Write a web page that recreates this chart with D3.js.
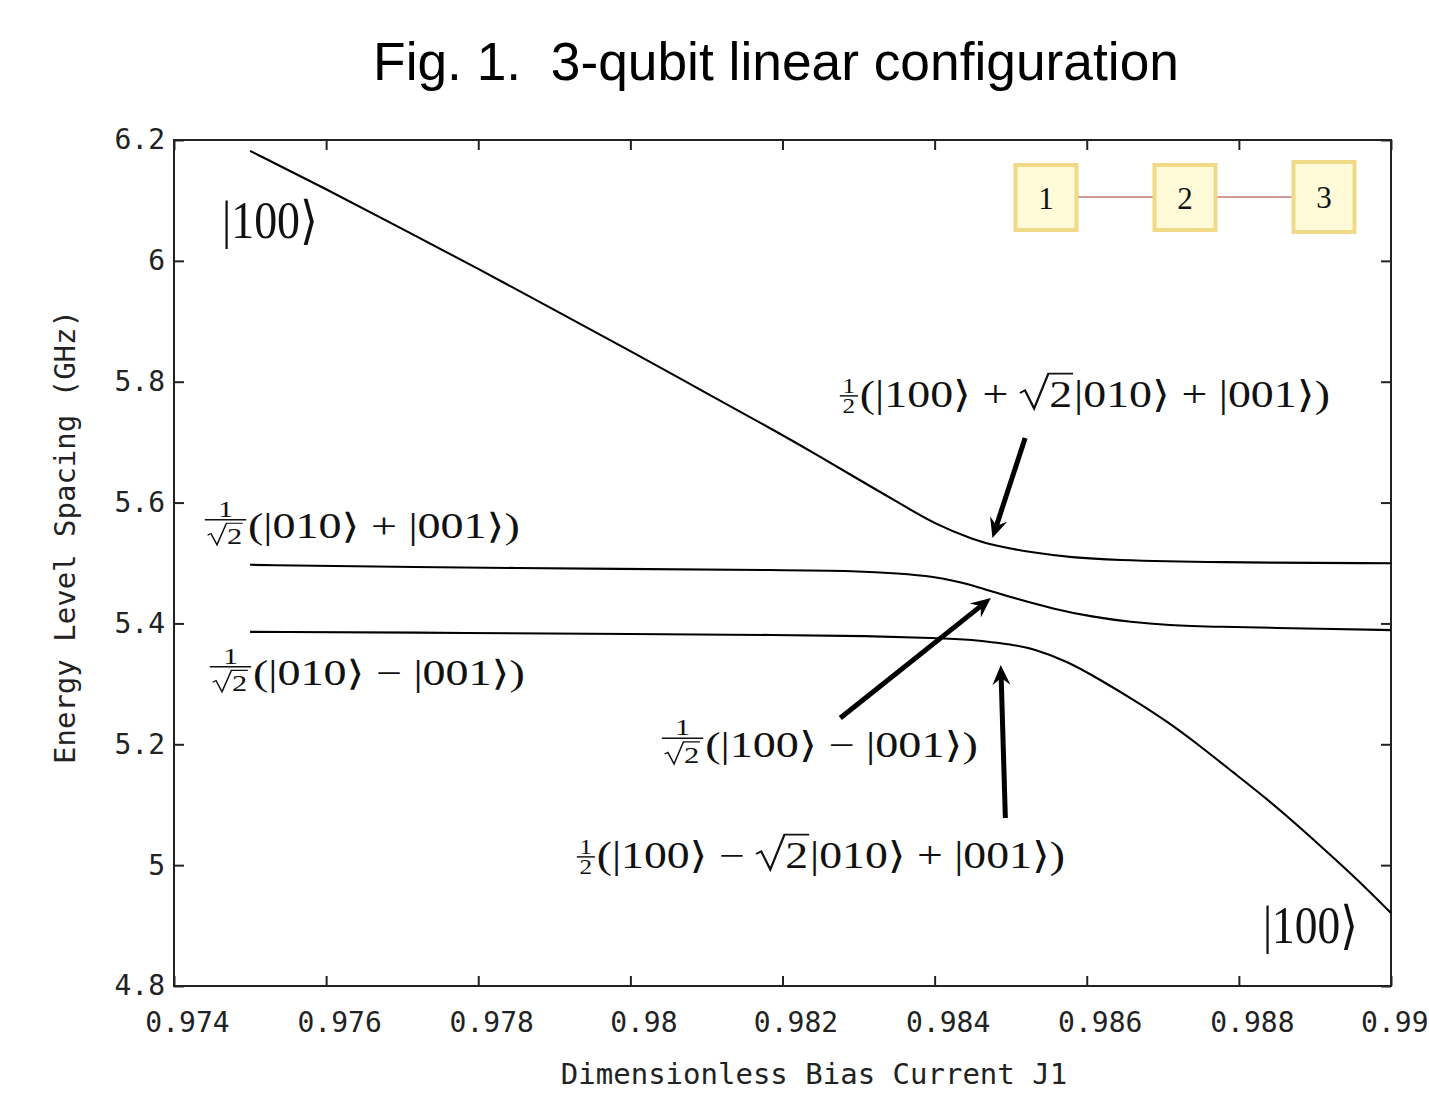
<!DOCTYPE html>
<html><head><meta charset="utf-8">
<script src="https://cdn.jsdelivr.net/npm/d3@7"></script>
<style>
body{margin:0;background:#fff;}
svg text{white-space:pre;}
</style></head><body>
<svg id="c" width="1429" height="1094"></svg>
<script>
// ---------- data ----------
const xTicks = [0.974,0.976,0.978,0.980,0.982,0.984,0.986,0.988,0.990];
const xTickLabels = ["0.974","0.976","0.978","0.98","0.982","0.984","0.986","0.988","0.99"];
const yTicks = [4.8,5.0,5.2,5.4,5.6,5.8,6.0,6.2];
const yTickLabels = ["4.8","5","5.2","5.4","5.6","5.8","6","6.2"];

const upperJ = [0.9750,0.9760,0.9770,0.9780,0.9790,0.9800,0.9810,0.9820,0.98248,0.98299,0.98351,0.98402,0.98453,0.98478,0.98529,0.98581,0.98632,0.98761,0.9900];
const upperE = [6.182,6.119,6.053,5.987,5.919,5.851,5.781,5.712,5.677,5.639,5.601,5.563,5.538,5.529,5.517,5.509,5.505,5.501,5.4995];

const middleJ = [0.9750,0.9770,0.9800,0.9820,0.98299,0.98351,0.98402,0.98427,0.98453,0.98478,0.98504,0.98556,0.98607,0.98658,0.98709,0.98761,0.98918,0.9900];
const middleE = [5.497,5.4934,5.490,5.4884,5.4868,5.483,5.477,5.470,5.462,5.452,5.442,5.424,5.411,5.402,5.397,5.3946,5.391,5.389];

const lowerJ = [0.9750,0.9780,0.9800,0.9820,0.98312,0.98402,0.98453,0.98478,0.98504,0.98529,0.98574,0.98617,0.98661,0.98706,0.98749,0.98792,0.98837,0.98880,0.98924,0.98968,0.9900];
const lowerE = [5.386,5.3843,5.3825,5.3809,5.3792,5.3759,5.3726,5.3685,5.3643,5.3585,5.3378,5.3072,5.2741,5.2377,5.1972,5.1541,5.1095,5.0631,5.0127,4.9614,4.9208];

const qubitLabels = ["1","2","3"];

const titleText = "Fig. 1.  3-qubit linear configuration";
const xAxisTitle = "Dimensionless Bias Current J1";
const yAxisTitle = "Energy Level Spacing (GHz)";

// arrows: [J, E] of tail and tip
const arrowTail = [[0.98519,5.7069],[0.98276,5.2435],[0.98493,5.0780]];
const arrowTip  = [[0.98476,5.5414],[0.98474,5.4421],[0.98487,5.3312]];

// ---------- layout ----------
const svg = d3.select("#c");
const M = {left:174, right:1391, top:140, bottom:986};
const x = d3.scaleLinear().domain([0.974,0.990]).range([M.left,M.right]);
const y = d3.scaleLinear().domain([4.8,6.2]).range([M.bottom,M.top]);
const mono = "'DejaVu Sans Mono','Liberation Mono',monospace";
const serif = "'Liberation Serif','DejaVu Serif',serif";

// title
svg.append("text").attr("x",776).attr("y",80).attr("text-anchor","middle")
  .attr("font-family","'Liberation Sans',Arial,sans-serif").attr("font-size",53.3)
  .attr("fill","#000").text(titleText);

// axes
const gx = svg.append("g").attr("transform",`translate(0,${M.bottom})`)
  .call(d3.axisBottom(x).tickValues(xTicks).tickFormat((d,i)=>xTickLabels[i])
    .tickSizeInner(-10).tickSizeOuter(0).tickPadding(26));
const gxt = svg.append("g").attr("transform",`translate(0,${M.top})`)
  .call(d3.axisTop(x).tickValues(xTicks).tickFormat("").tickSizeInner(-10).tickSizeOuter(0));
const gy = svg.append("g").attr("transform",`translate(${M.left},0)`)
  .call(d3.axisLeft(y).tickValues(yTicks).tickFormat((d,i)=>yTickLabels[i])
    .tickSizeInner(-10).tickSizeOuter(0).tickPadding(9));
const gyr = svg.append("g").attr("transform",`translate(${M.right},0)`)
  .call(d3.axisRight(y).tickValues(yTicks).tickFormat("").tickSizeInner(-10).tickSizeOuter(0));
[gx,gxt,gy,gyr].forEach(g=>{
  g.select(".domain").remove();
  g.selectAll(".tick line").attr("stroke","#222").attr("stroke-width",2);
  g.selectAll(".tick text").attr("font-family",mono).attr("font-size",28).attr("fill","#222");
});
gx.selectAll(".tick text").attr("dx",13);
// keep the last label inside the page
gx.selectAll(".tick text").filter((d,i)=>i===xTicks.length-1).attr("dx",0).attr("text-anchor","end")
  .attr("x",1428-M.right);

svg.append("rect").attr("x",M.left).attr("y",M.top)
  .attr("width",M.right-M.left).attr("height",M.bottom-M.top)
  .attr("fill","none").attr("stroke","#222").attr("stroke-width",2);

svg.append("text").attr("x",814).attr("y",1084).attr("text-anchor","middle")
  .attr("font-family",mono).attr("font-size",29).attr("fill","#222").text(xAxisTitle);
svg.append("text").attr("transform","translate(75,537) rotate(-90)").attr("text-anchor","middle")
  .attr("font-family",mono).attr("font-size",29).attr("fill","#222").text(yAxisTitle);

// curves
const line = d3.line().x(d=>x(d[0])).y(d=>y(d[1])).curve(d3.curveBasis);
[[upperJ,upperE],[middleJ,middleE],[lowerJ,lowerE]].forEach(([J,E])=>{
  svg.append("path").datum(J.map((j,i)=>[j,E[i]])).attr("d",line)
    .attr("fill","none").attr("stroke","#000").attr("stroke-width",2.1);
});

// qubit diagram
const qb = {cx:[1046,1185,1324], top:[165,165,162], h:[65,65,70], w:61, lineY:197};
svg.append("line").attr("x1",qb.cx[0]).attr("x2",qb.cx[2]).attr("y1",qb.lineY).attr("y2",qb.lineY)
  .attr("stroke","#d49a9a").attr("stroke-width",2);
qubitLabels.forEach((q,i)=>{
  svg.append("rect").attr("x",qb.cx[i]-qb.w/2).attr("y",qb.top[i]).attr("width",qb.w).attr("height",qb.h[i])
    .attr("fill","#fffbd8").attr("stroke","#f0da88").attr("stroke-width",4);
  svg.append("text").attr("x",qb.cx[i]).attr("y",qb.top[i]+qb.h[i]/2+11).attr("text-anchor","middle")
    .attr("font-family",serif).attr("font-size",31).attr("fill","#111").text(q);
});

// arrows
arrowTail.forEach((t,i)=>{
  const x0=x(t[0]), y0=y(t[1]), x1=x(arrowTip[i][0]), y1=y(arrowTip[i][1]);
  const dx=x1-x0, dy=y1-y0, L=Math.hypot(dx,dy), ux=dx/L, uy=dy/L, nx=-uy, ny=ux;
  const HL=20, HW=9, notch=7;
  svg.append("line").attr("x1",x0).attr("y1",y0).attr("x2",x1-(HL-notch)*ux).attr("y2",y1-(HL-notch)*uy)
    .attr("stroke","#000").attr("stroke-width",5);
  const pts=[[x1,y1],[x1-HL*ux+HW*nx,y1-HL*uy+HW*ny],[x1-(HL-notch)*ux,y1-(HL-notch)*uy],[x1-HL*ux-HW*nx,y1-HL*uy-HW*ny]];
  svg.append("path").attr("d","M"+pts.map(p=>p.join(",")).join("L")+"Z").attr("fill","#000");
});

// math labels
function mathLabel(spec, J, E, F, targetW){
  const g = svg.append("g").attr("transform",`translate(${x(J)},${y(E)})`);
  const inner = g.append("g");
  let cx = 0;
  const txt = (s,xx,yy,size,anchor)=> inner.append("text").attr("x",xx).attr("y",yy)
      .attr("font-family",serif).attr("font-size",size).attr("fill","#111")
      .attr("text-anchor",anchor||"start").text(s);
  const radical = (x0,base,size,contentW,top)=>{
    const rw=size*0.62, sw=size*0.05;
    inner.append("path").attr("d",
      `M${x0},${base-(base-top)*0.42} L${x0+rw*0.18},${base-(base-top)*0.5} L${x0+rw*0.5},${base+size*0.04} L${x0+rw},${top} L${x0+rw+contentW+size*0.04},${top}`)
      .attr("fill","none").attr("stroke","#111").attr("stroke-width",sw).attr("stroke-linejoin","miter");
    return rw;
  };
  spec.forEach(it=>{
    if(it.t!==undefined){
      const t=txt(it.t,cx,0,F); cx+=t.node().getComputedTextLength();
    } else if(it.sqrt!==undefined){
      const t=txt(it.sqrt,0,0,F); const w=t.node().getComputedTextLength();
      const rw=radical(cx,0,F,w,-F*0.9);
      t.attr("x",cx+rw+F*0.02); cx+=rw+w+F*0.06;
    } else if(it.num!==undefined){
      const barY = it.denSqrt ? -F*0.52 : -F*0.3;
      const s = F*(it.size||0.62);
      const n=txt(it.num,0,0,s,"middle"); const nw=n.node().getComputedTextLength();
      let dw, denBase;
      const d=txt(it.den,0,0,s,"middle"); const dTextW=d.node().getComputedTextLength();
      if(it.denSqrt){
        const rw=s*0.62; dw=rw+dTextW+s*0.06;
        denBase = barY + F*0.08 + s*0.92;
      } else { dw=dTextW; denBase = barY + F*0.08 + s*0.68; }
      const fw=Math.max(nw,dw)+F*0.12;
      const mid=cx+F*0.04+fw/2;
      n.attr("x",mid).attr("y",barY-F*0.08);
      inner.append("line").attr("x1",cx+F*0.04).attr("x2",cx+F*0.04+fw).attr("y1",barY).attr("y2",barY)
        .attr("stroke","#111").attr("stroke-width",Math.max(1.2,F*0.04));
      if(it.denSqrt){
        const x0=mid-dw/2;
        const rw=radical(x0,denBase,s,dTextW,barY+F*0.1);
        d.attr("text-anchor","start").attr("x",x0+rw+s*0.02).attr("y",denBase);
      } else { d.attr("x",mid).attr("y",denBase); }
      cx+=fw+F*0.08;
    }
  });
  inner.attr("transform",`scale(${targetW/cx},1)`);
}

const labelF = 37;
mathLabel([{t:"|100⟩"}], 0.974631, 6.0378, 52, 96);
mathLabel([{t:"|100⟩"}], 0.988317, 4.8712, 52, 95);
mathLabel([{num:"1",den:"2",denSqrt:true,size:0.66},{t:"(|010⟩ + |001⟩)"}], 0.974381, 5.5414, 35, 317);
mathLabel([{num:"1",den:"2",denSqrt:true,size:0.66},{t:"(|010⟩ − |001⟩)"}], 0.974447, 5.2981, 35, 317);
mathLabel([{num:"1",den:"2",size:0.55},{t:"(|100⟩ + "},{sqrt:"2"},{t:"|010⟩ + |001⟩)"}], 0.982730, 5.7582, labelF, 492);
mathLabel([{num:"1",den:"2",denSqrt:true,size:0.66},{t:"(|100⟩ − |001⟩)"}], 0.980389, 5.1790, 36, 318);
mathLabel([{num:"1",den:"2",size:0.55},{t:"(|100⟩ − "},{sqrt:"2"},{t:"|010⟩ + |001⟩)"}], 0.979272, 4.9953, labelF, 490);
</script>
</body></html>
